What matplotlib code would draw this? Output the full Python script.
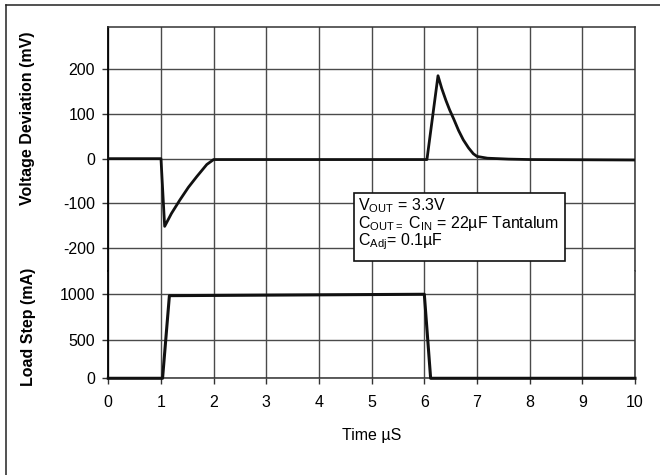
import numpy as np
import matplotlib
matplotlib.use("Agg")
from matplotlib import pyplot as plt
from matplotlib.lines import Line2D
from matplotlib.patches import Rectangle

plt.rcParams['font.family'] = ['Liberation Sans', 'DejaVu Sans']
plt.rcParams['mathtext.fontset'] = 'custom'
plt.rcParams['mathtext.rm'] = 'Liberation Sans'
plt.rcParams['mathtext.it'] = 'Liberation Sans:italic'
plt.rcParams['mathtext.bf'] = 'Liberation Sans:bold'
plt.rcParams['axes.unicode_minus'] = False

# voltage deviation trace (mV)
t_volt = [0, 1.0, 1.07, 1.2, 1.36, 1.52, 1.68, 1.87, 2.0, 6.05, 6.26, 6.33, 6.41, 6.48,
          6.56, 6.65, 6.74, 6.84, 6.93, 7.0, 7.2, 7.6, 8.0, 10.0]
volt = [0, 0, -151, -122, -92, -64, -40, -13, -2, -2, 185, 157, 130, 109,
        88, 63, 42, 24, 11, 5, 1, -1, -2, -3]

# load step trace (mA)
t_load = [0, 1.03, 1.16, 6.0, 6.12, 10]
load = [0, 0, 985, 1000, 0, 0]

x_ticks = list(range(0, 11))
volt_ticks = [200, 100, 0, -100, -200]
load_ticks = [1000, 500, 0]

grid_col = '#4a4a4a'

fig = plt.figure(figsize=(6.6, 4.75), dpi=100)

left, right = 0.1641, 0.9621
ax_v = fig.add_axes([left, 0.4295, right - left, 0.9438 - 0.4295])
ax_l = fig.add_axes([left, 0.2036, right - left, 0.4295 - 0.2036])

# the load grid in the original is not evenly spaced
load_px = [0, 38, 84, 176]
load_val = [0, 500, 1000, 2000]
ax_l.set_yscale('function', functions=(lambda y: np.interp(y, load_val, load_px),
                                       lambda p: np.interp(p, load_px, load_val)))

for ax in (ax_v, ax_l):
    ax.set_xlim(0, 10)
    ax.set_xticks(x_ticks)
    ax.grid(True, color=grid_col, lw=1.0)
    for s in ax.spines.values():
        s.set_color('#333333')
        s.set_linewidth(1.1)
    ax.spines['left'].set_color('black')
    ax.spines['left'].set_linewidth(1.3)
    ax.tick_params(axis='both', labelsize=11.5, color='#333333', width=1.0,
                   length=4.5, pad=5)
ax_l.tick_params(axis='x', pad=7.5)

ax_v.set_ylim(-250.6, 294.4)
ax_v.set_yticks(volt_ticks)
ax_v.spines['bottom'].set_visible(False)
ax_v.tick_params(axis='x', length=0, labelbottom=False)
ax_v.plot(t_volt, volt, color='#111111', lw=2.0, zorder=3)

ax_l.set_ylim(0, 1253)
ax_l.set_yticks(load_ticks)
ax_l.set_yticklabels([str(v) for v in load_ticks])
ax_l.spines['top'].set_visible(False)
ax_l.plot(t_load, load, color='#111111', lw=2.2, zorder=3, clip_on=False)
ax_l.set_xlabel('Time µS', fontsize=11.5, labelpad=13)

# conditions box
ax_v.add_patch(Rectangle((0.4665, 0.0409), 0.4006, 0.277, transform=ax_v.transAxes,
                         facecolor='white', edgecolor='#111111', lw=1.2, zorder=5))
ax_v.text(0.474, 0.307,
          'V$_{\\rm OUT}$ = 3.3V\n'
          'C$_{\\rm OUT=}$ C$_{\\rm IN}$ = 22µF Tantalum\n'
          'C$_{\\rm Adj}$= 0.1µF',
          transform=ax_v.transAxes, ha='left', va='top', fontsize=11.5,
          linespacing=0.92, zorder=6)

fig.text(28 / 660, 1 - 118 / 475, 'Voltage Deviation (mV)', rotation=90,
         ha='center', va='center', fontsize=11.5, fontweight='bold')
fig.text(28 / 660, 1 - 327 / 475, 'Load Step (mA)', rotation=90,
         ha='center', va='center', fontsize=11.5, fontweight='bold')

# outer frame (only left and top edges show)
fig.add_artist(Line2D([6.5 / 660, 6.5 / 660], [0, 1 - 5.3 / 475], color='#222222', lw=1.1))
fig.add_artist(Line2D([6.5 / 660, 1], [1 - 5.3 / 475, 1 - 5.3 / 475], color='#222222', lw=1.1))

fig.savefig('out.png', dpi=100)
